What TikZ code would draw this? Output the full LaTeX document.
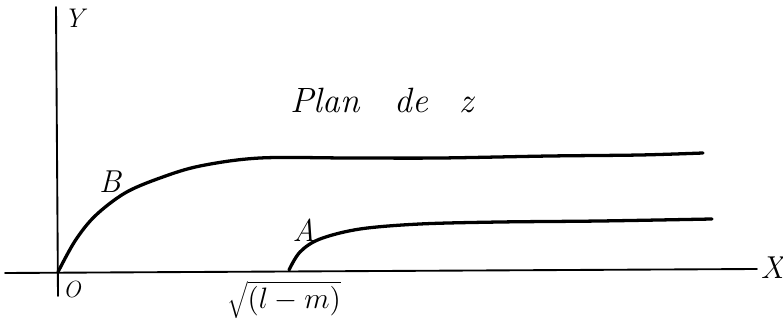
\documentclass[tikz,border=0pt]{standalone}
\usepackage{fontspec}
\usepackage{graphicx}
\usepackage{tikz}
\usetikzlibrary{positioning}

\begin{document}
\begin{tikzpicture}[
  x=0.03cm, y=-0.03cm,
  axis/.style={line width=1.6pt, line cap=round},
  curve/.style={line width=2.8pt, line cap=round, line join=round},
  lbl/.style={font=\fontsize{27}{32}\selectfont\itshape, inner sep=1pt}
]
  \useasboundingbox (0,0) rectangle (783,321);

  %% axes
  \coordinate (xl) at (5,273);
  \coordinate (xr) at (757,269);
  \coordinate (yt) at (56,7);
  \coordinate (yb) at (58,296);
  \draw[axis] (xl) -- (xr);
  \draw[axis] (yt) -- (yb);

  \node[lbl] (X) at (772,268) {X};
  \node[lbl, font=\fontsize{23}{28}\selectfont\itshape] (Y) at (74,18) {Y};
  \node[lbl, font=\fontsize{20}{24}\selectfont\itshape] (O) at (72,290) {O};
  \node[lbl] (rt) at (284,300) {\scalebox{1.75}{\Large$\sqrt{(l-m)}$}};
  \node[lbl, font=\fontsize{30}{36}\selectfont\itshape] (title) at (382,100)
    {Plan\hspace{1em}de\hspace{0.9em}z};

  %% curves
  \draw[curve] plot[smooth, tension=0.55] coordinates {(58,272) (75,241) (95,216)
    (125,193) (160,178) (200,166) (260,158) (350,158) (440,158) (550,156) (640,155) (703,153)};
  \draw[curve] plot[smooth, tension=0.55] coordinates {(289,270) (300,252) (320,239)
    (360,229) (420,224) (500,222) (600,221) (712,219)};

  \node[lbl] (B) at (110,182) {B};
  \node[lbl] (A) at (304,230) {A};
\end{tikzpicture}
\end{document}
